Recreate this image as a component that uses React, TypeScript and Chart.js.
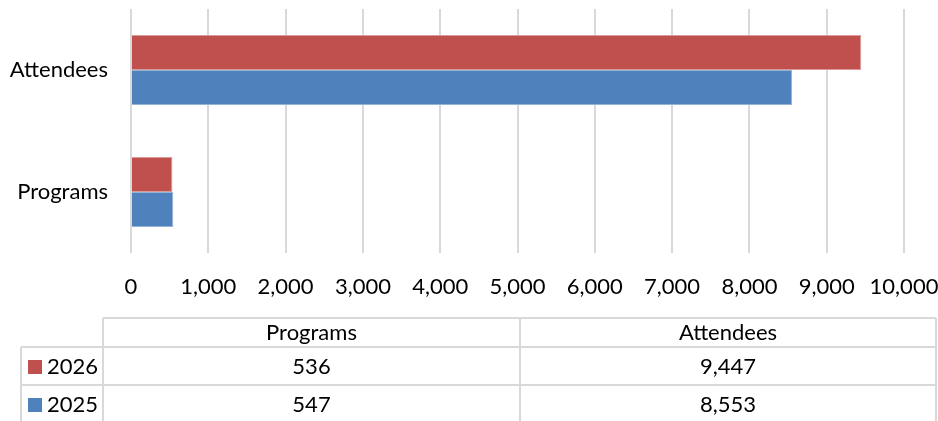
import React, { useEffect, useRef } from "react";
import { Chart, registerables } from "chart.js";

Chart.register(...registerables);

const categories = ["Attendees", "Programs"];
const tableColumns = ["Programs", "Attendees"];
const seriesNames = ["2026", "2025"];
const values2026 = [9447, 536];
const values2025 = [8553, 547];
const tableValues2026 = [536, 9447];
const tableValues2025 = [547, 8553];
const xTicks = [0, 1000, 2000, 3000, 4000, 5000, 6000, 7000, 8000, 9000, 10000];

const RED = "#C0504D";
const BLUE = "#4F81BD";
const GRID = "#D9D9D9";
const FONT = "Lato, 'Noto Sans', sans-serif";
const FONT_SIZE = 22;

const fmt = (v: number) => v.toLocaleString("en-US");

const tablePlugin = {
  id: "dataTable",
  afterDraw(chart: any) {
    const ctx = chart.ctx as CanvasRenderingContext2D;
    const left = 21;
    const colA = 103;
    const colB = 520;
    const right = 936;
    const top = 318;
    const hdrBottom = 347;
    const row1Bottom = 385;
    const bottom = 421;
    ctx.save();
    ctx.strokeStyle = GRID;
    ctx.lineWidth = 2;
    ctx.beginPath();
    ctx.moveTo(colA, top); ctx.lineTo(right, top);
    ctx.moveTo(left, hdrBottom); ctx.lineTo(right, hdrBottom);
    ctx.moveTo(left, row1Bottom); ctx.lineTo(right, row1Bottom);
    ctx.moveTo(left, hdrBottom); ctx.lineTo(left, bottom);
    ctx.moveTo(colA, top); ctx.lineTo(colA, bottom);
    ctx.moveTo(colB, top); ctx.lineTo(colB, bottom);
    ctx.moveTo(right, top); ctx.lineTo(right, bottom);
    ctx.stroke();

    ctx.fillStyle = "#000";
    ctx.font = `${FONT_SIZE}px ${FONT}`;
    ctx.textBaseline = "middle";
    ctx.textAlign = "center";
    const colCenters = [(colA + colB) / 2, (colB + right) / 2];
    tableColumns.forEach((c, i) => ctx.fillText(c, colCenters[i], 333));
    const rows = [tableValues2026, tableValues2025];
    const rowCenters = [367, 405];
    const colors = [RED, BLUE];
    rows.forEach((r, ri) => {
      ctx.textAlign = "center";
      ctx.fillStyle = "#000";
      r.forEach((v, ci) => ctx.fillText(fmt(v), colCenters[ci], rowCenters[ri]));
      ctx.fillStyle = colors[ri];
      ctx.fillRect(28, rowCenters[ri] - 7, 14, 14);
      ctx.fillStyle = "#000";
      ctx.textAlign = "left";
      ctx.fillText(seriesNames[ri], 47, rowCenters[ri]);
    });
    ctx.restore();
  },
};

export default function App() {
  const ref = useRef<HTMLCanvasElement>(null);
  useEffect(() => {
    if (!ref.current) return;
    const chart = new Chart(ref.current, {
      type: "bar",
      data: {
        labels: categories,
        datasets: [
          {
            label: seriesNames[0],
            data: values2026,
            backgroundColor: RED,
            borderColor: "#D99A98",
            borderWidth: 1,
            categoryPercentage: 0.575,
            barPercentage: 1,
          },
          {
            label: seriesNames[1],
            data: values2025,
            backgroundColor: BLUE,
            borderColor: "#95B3D7",
            borderWidth: 1,
            categoryPercentage: 0.575,
            barPercentage: 1,
          },
        ],
      },
      options: {
        indexAxis: "y",
        animation: false,
        responsive: false,
        maintainAspectRatio: false,
        layout: { padding: { left: 0, right: 34, top: 9, bottom: 108 } },
        plugins: { legend: { display: false }, tooltip: { enabled: false } },
        scales: {
          x: {
            min: 0,
            max: 10000,
            afterBuildTicks: (s: any) => {
              s.ticks = xTicks.map((v) => ({ value: v }));
            },
            afterFit: (s: any) => {
              s.height = 60;
              s.paddingLeft = 0;
              s.paddingRight = 0;
              s.paddingTop = 0;
              s.paddingBottom = 0;
            },
            ticks: {
              font: { family: FONT, size: FONT_SIZE },
              color: "#000",
              padding: 21,
              maxRotation: 0,
              autoSkip: false,
              callback: (v: any) => fmt(Number(v)),
            },
            grid: { color: GRID, lineWidth: 2, drawTicks: false },
            border: { display: false },
          },
          y: {
            afterFit: (s: any) => {
              s.width = 131;
              s.paddingLeft = 0;
              s.paddingRight = 0;
              s.paddingTop = 0;
              s.paddingBottom = 0;
            },
            ticks: {
              font: { family: FONT, size: FONT_SIZE },
              color: "#000",
              padding: 15,
            },
            grid: { display: false },
            border: { display: false },
          },
        },
      },
      plugins: [tablePlugin],
    });
    return () => chart.destroy();
  }, []);
  return (
    <div style={{ position: "fixed", left: 0, top: 0, width: 938, height: 421, background: "#fff" }}>
      <canvas ref={ref} width={938} height={421} style={{ width: 938, height: 421 }} />
    </div>
  );
}
